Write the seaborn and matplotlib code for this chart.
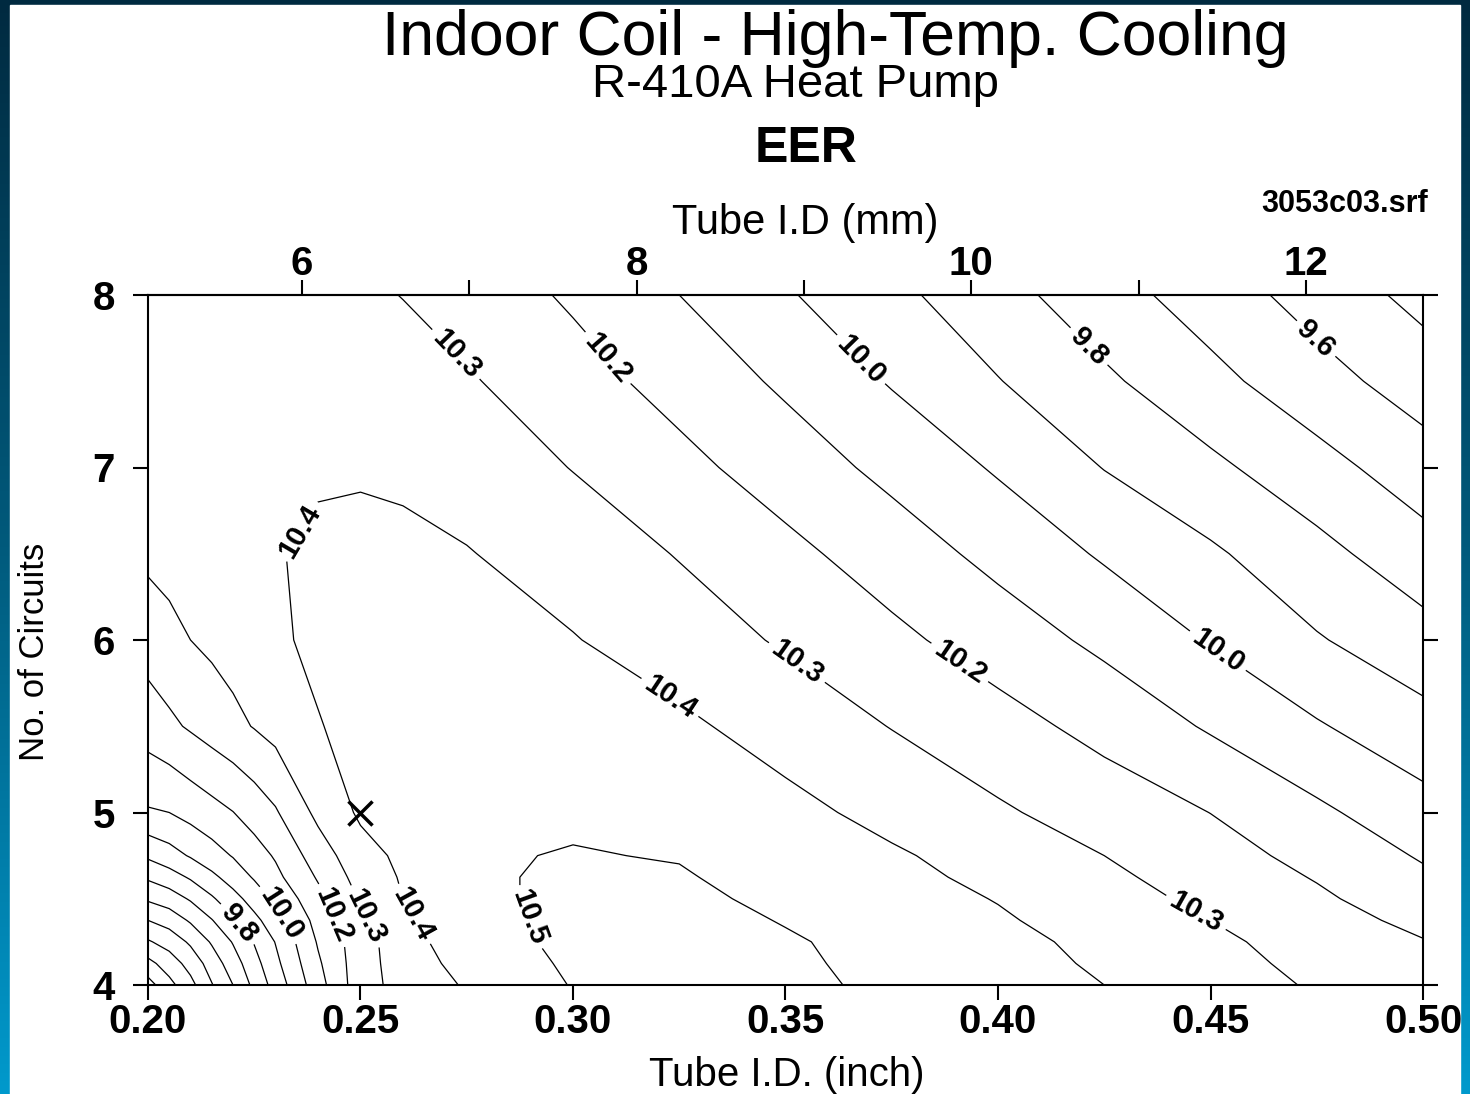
import numpy as np
import matplotlib
matplotlib.use("Agg")
import matplotlib.pyplot as plt
from matplotlib.colors import LinearSegmentedColormap
import seaborn as sns

# grille : diametre de tube (inch) x nombre de circuits
tube_id = [0.20, 0.205, 0.21, 0.215, 0.22, 0.225, 0.23, 0.24, 0.25, 0.26, 0.275,
           0.30, 0.325, 0.35, 0.375, 0.40, 0.425, 0.45, 0.475, 0.50]
circuits = [4.0, 4.125, 4.25, 4.375, 4.5, 4.625, 4.75, 5.0, 5.5, 6.0, 6.5, 7.0, 7.5, 8.0]

# EER, une ligne par nombre de circuits
eer_c4000 = [9.16, 9.27, 9.37, 9.494, 9.60, 9.726, 9.84, 10.06, 10.26, 10.335, 10.41, 10.505, 10.53, 10.52, 10.483, 10.44, 10.40, 10.346, 10.29, 10.25]
eer_c4125 = [9.27, 9.348, 9.437, 9.544, 9.653, 9.764, 9.875, 10.085, 10.258, 10.347, 10.435, 10.515, 10.54, 10.515, 10.476, 10.433, 10.388, 10.333, 10.275, 10.228]
eer_c4250 = [9.389, 9.44, 9.516, 9.611, 9.707, 9.806, 9.904, 10.109, 10.257, 10.358, 10.46, 10.52, 10.55, 10.51, 10.469, 10.426, 10.377, 10.32, 10.261, 10.205]
eer_c4375 = [9.50, 9.541, 9.613, 9.695, 9.784, 9.874, 9.955, 10.135, 10.284, 10.38, 10.47, 10.52, 10.535, 10.495, 10.454, 10.411, 10.358, 10.30, 10.239, 10.175]
eer_c4500 = [9.614, 9.65, 9.711, 9.786, 9.865, 9.941, 10.02, 10.17, 10.31, 10.40, 10.48, 10.52, 10.52, 10.48, 10.439, 10.396, 10.338, 10.278, 10.216, 10.144]
eer_c4625 = [9.715, 9.756, 9.812, 9.877, 9.942, 10.01, 10.075, 10.21, 10.34, 10.41, 10.485, 10.515, 10.508, 10.465, 10.426, 10.377, 10.319, 10.258, 10.194, 10.117]
eer_c4750 = [9.817, 9.861, 9.909, 9.959, 10.006, 10.058, 10.11, 10.25, 10.365, 10.42, 10.49, 10.505, 10.495, 10.45, 10.413, 10.357, 10.30, 10.238, 10.171, 10.09]
eer_c5000 = [9.99, 10.0, 10.034, 10.066, 10.098, 10.143, 10.19, 10.324, 10.415, 10.445, 10.475, 10.485, 10.47, 10.43, 10.369, 10.313, 10.256, 10.199, 10.119, 10.037]
eer_c5500 = [10.147, 10.18, 10.212, 10.244, 10.275, 10.305, 10.335, 10.395, 10.43, 10.455, 10.47, 10.46, 10.42, 10.356, 10.297, 10.237, 10.169, 10.089, 10.009, 9.934]
eer_c6000 = [10.245, 10.273, 10.30, 10.32, 10.34, 10.362, 10.385, 10.42, 10.44, 10.45, 10.44, 10.405, 10.346, 10.289, 10.223, 10.153, 10.077, 9.993, 9.908, 9.837]
eer_c6500 = [10.32, 10.332, 10.345, 10.357, 10.37, 10.382, 10.395, 10.415, 10.425, 10.425, 10.405, 10.352, 10.295, 10.226, 10.152, 10.071, 9.988, 9.915, 9.83, 9.74]
eer_c7000 = [10.355, 10.36, 10.365, 10.37, 10.375, 10.38, 10.385, 10.39, 10.39, 10.38, 10.355, 10.297, 10.228, 10.153, 10.073, 9.989, 9.897, 9.821, 9.737, 9.644]
eer_c7500 = [10.36, 10.362, 10.365, 10.365, 10.365, 10.362, 10.36, 10.355, 10.345, 10.335, 10.31, 10.239, 10.164, 10.083, 9.992, 9.904, 9.817, 9.729, 9.637, 9.553]
eer_c8000 = [10.36, 10.36, 10.36, 10.355, 10.35, 10.345, 10.34, 10.33, 10.315, 10.298, 10.257, 10.186, 10.10, 10.01, 9.925, 9.835, 9.742, 9.651, 9.56, 9.47]

contour_levels = [9.2, 9.3, 9.4, 9.5, 9.6, 9.7, 9.8, 9.9, 10.0, 10.1, 10.2, 10.3, 10.4, 10.5]

# position des etiquettes des isolignes
label_x = [0.2722, 0.3075, 0.3675, 0.4205, 0.4734, 0.2351, 0.3221, 0.3527, 0.391,
           0.4515, 0.4468, 0.2209, 0.2299, 0.2421, 0.2506, 0.2624, 0.2894]
label_y = [7.65, 7.62, 7.62, 7.68, 7.71, 6.64, 5.64, 5.87, 5.87,
           5.93, 4.43, 4.35, 4.39, 4.39, 4.39, 4.41, 4.39]

# point de conception
design_x = [0.25]
design_y = [5.0]

inch_ticks = [0.20, 0.25, 0.30, 0.35, 0.40, 0.45, 0.50]
inch_labels = ['0.20', '0.25', '0.30', '0.35', '0.40', '0.45', '0.50']
mm_ticks = [6, 7, 8, 9, 10, 11, 12]
mm_labels = ['6', '', '8', '', '10', '', '12']
circ_ticks = [4, 5, 6, 7, 8]

Z = np.array([eer_c4000, eer_c4125, eer_c4250, eer_c4375, eer_c4500, eer_c4625, eer_c4750,
              eer_c5000, eer_c5500, eer_c6000, eer_c6500, eer_c7000, eer_c7500, eer_c8000])

sns.set_theme(style="white")
plt.rcParams['font.family'] = ['Liberation Sans', 'DejaVu Sans']
plt.rcParams['text.color'] = 'black'
plt.rcParams['axes.labelcolor'] = 'black'

W, H = 1470, 1094
fig = plt.figure(figsize=(W / 100, H / 100), dpi=100)

# fond degrade bleu + panneau blanc
bg = fig.add_axes([0, 0, 1, 1], zorder=-10)
grad = np.linspace(0, 1, 256).reshape(-1, 1)
frame_cmap = LinearSegmentedColormap.from_list('frame', ['#002a40', '#005a7c', '#0099cc'])
bg.imshow(grad, aspect='auto', cmap=frame_cmap, extent=[0, 1, 0, 1], origin='upper')
bg.add_patch(plt.Rectangle((10 / W, 0), 1450 / W, 1089 / H, color='white',
                           transform=bg.transAxes))
bg.set_xlim(0, 1)
bg.set_ylim(0, 1)
bg.axis('off')

ax = fig.add_axes([148 / W, 109 / H, 1275 / W, 690 / H])
ax.set_xlim(0.2, 0.5)
ax.set_ylim(4, 8)
cs = ax.contour(tube_id, circuits, Z, levels=contour_levels, colors='black', linewidths=0.9)
texts = ax.clabel(cs, fmt='%.1f', manual=list(zip(label_x, label_y)),
                  inline=True, inline_spacing=6, fontsize=21)
for t in texts:
    t.set_fontweight('bold')

sns.scatterplot(x=design_x, y=design_y, marker='x', s=300, color='black',
                linewidth=2.5, ax=ax, legend=False)

for sp in ax.spines.values():
    sp.set_color('black')
    sp.set_linewidth(1.5)

ax.set_xticks(inch_ticks, labels=inch_labels)
ax.set_yticks(circ_ticks)
ax.tick_params(axis='both', direction='out', length=11, width=1.5, colors='black',
               labelsize=29, right=True, left=True, bottom=True, top=False)
ax.tick_params(axis='x', pad=2)
ax.tick_params(axis='y', pad=13)
for lab in ax.get_xticklabels() + ax.get_yticklabels():
    lab.set_fontweight('bold')

secax = ax.secondary_xaxis('top', functions=(lambda v: v * 25.4, lambda v: v / 25.4))
secax.set_xticks(mm_ticks, labels=mm_labels)
secax.tick_params(direction='out', length=11, width=1.5, colors='black', labelsize=29, pad=-2.5)
for lab in secax.get_xticklabels():
    lab.set_fontweight('bold')
secax.spines['top'].set_linewidth(1.5)

# titres d'axes places comme sur l'original
fig.text(805 / W, 1 - 223 / H, 'Tube I.D (mm)', ha='center', va='center', fontsize=30)
fig.text(787 / W, 1 - 1086 / H, 'Tube I.D. (inch)', ha='center', va='baseline', fontsize=29)
fig.text(35 / W, 1 - 652 / H, 'No. of Circuits', ha='center', va='center', rotation=90, fontsize=25)

fig.text(835 / W, 1 - 55 / H, 'Indoor Coil - High-Temp. Cooling', ha='center', va='baseline', fontsize=45)
fig.text(795 / W, 1 - 97 / H, 'R-410A Heat Pump', ha='center', va='baseline', fontsize=34)
fig.text(806 / W, 1 - 162 / H, 'EER', ha='center', va='baseline', fontsize=36, fontweight='bold')
fig.text(1428 / W, 1 - 212 / H, '3053c03.srf', ha='right', va='baseline', fontsize=22, fontweight='bold')

fig.savefig('out.png', dpi=100)
